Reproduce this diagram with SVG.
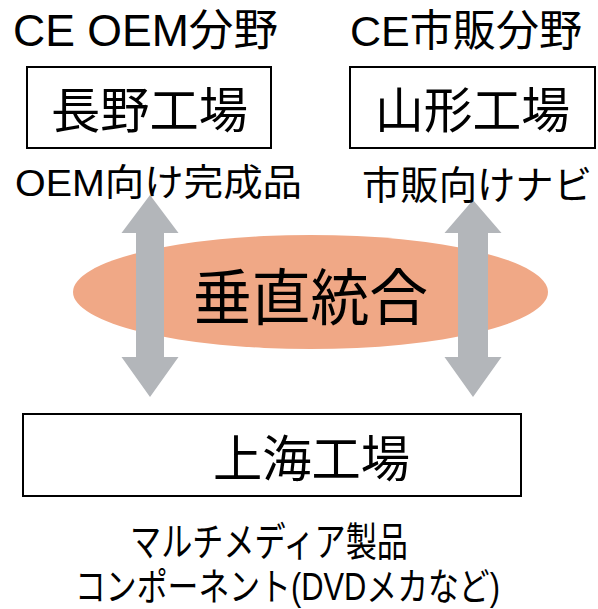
<svg xmlns="http://www.w3.org/2000/svg" width="598" height="609" viewBox="0 0 598 609">
<style>
text{font-family:"Liberation Sans","Noto Sans CJK JP",sans-serif;fill:#000}
.box{fill:#fff;stroke:#000;stroke-width:2}
.arrow{fill:#B3B6BA}
</style>
<rect width="598" height="609" fill="#fff"/>
<g id="hub">
<ellipse cx="310.5" cy="292" rx="237.5" ry="57" fill="#F0A886"/>
</g>
<g id="connectors">
<polygon class="arrow" points="150,195 178.5,233 164,233 164,357 178.5,357 150,397 121.5,357 136,357 136,233 121.5,233"/>
<polygon class="arrow" points="473,200 501.5,233 488,233 488,357 501.5,357 473,397 444.5,357 458,357 458,233 444.5,233"/>
</g>
<g id="hub-label">
<text x="310.5" y="320" font-size="61" text-anchor="middle" textLength="235" lengthAdjust="spacingAndGlyphs">垂直統合</text>
</g>
<g id="nagano">
<text x="13" y="46" font-size="44" textLength="265" lengthAdjust="spacingAndGlyphs">CE OEM分野</text>
<rect class="box" x="27" y="67" width="244" height="81"/>
<text x="51" y="128" font-size="49" textLength="197" lengthAdjust="spacingAndGlyphs">長野工場</text>
<text x="15" y="196" font-size="37" textLength="287" lengthAdjust="spacingAndGlyphs">OEM向け完成品</text>
</g>
<g id="yamagata">
<text x="350" y="46" font-size="43" textLength="232" lengthAdjust="spacingAndGlyphs">CE市販分野</text>
<rect class="box" x="350" y="67" width="245" height="81"/>
<text x="375" y="128" font-size="49" textLength="195" lengthAdjust="spacingAndGlyphs">山形工場</text>
<text x="362" y="199" font-size="39" textLength="230" lengthAdjust="spacingAndGlyphs">市販向けナビ</text>
</g>
<g id="shanghai">
<rect class="box" x="23" y="414" width="498" height="82"/>
<text x="213" y="477" font-size="50" textLength="197" lengthAdjust="spacingAndGlyphs">上海工場</text>
<text x="130" y="556" font-size="40" textLength="278" lengthAdjust="spacingAndGlyphs">マルチメディア製品</text>
<text x="75" y="600" font-size="38" textLength="425" lengthAdjust="spacingAndGlyphs">コンポーネント(DVDメカなど)</text>
</g>
</svg>
